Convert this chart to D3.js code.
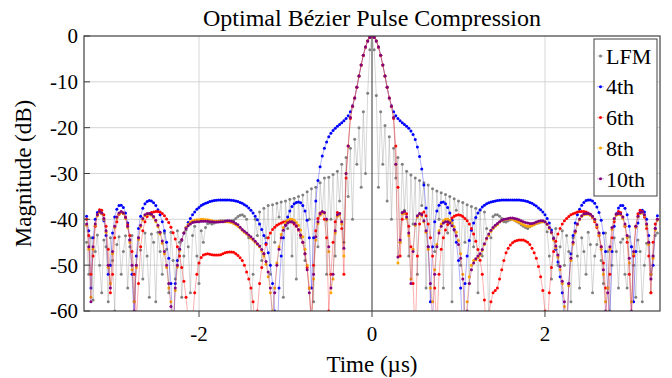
<!DOCTYPE html>
<html>
<head>
<meta charset="utf-8">
<script src="https://cdn.jsdelivr.net/npm/d3@7"></script>
<style>
  body { margin: 0; background: #fff; }
  text { font-family: "Liberation Serif", "DejaVu Serif", serif; }
</style>
</head>
<body>
<svg id="chart" width="672" height="378" font-family="Liberation Serif, DejaVu Serif, serif"></svg>
<script>
const title = "Optimal Bézier Pulse Compression";
const xLabel = "Time (µs)";
const yLabel = "Magnitude (dB)";
const seriesNames = ["LFM", "4th", "6th", "8th", "10th"];
const seriesColors = ["#808080", "#0000ff", "#ff0000", "#ffa500", "#800080"];
const xTicks = [-2, 0, 2];
const yTicks = [0, -10, -20, -30, -40, -50, -60];

// sample grid: t = -3.300, -3.275, ... 3.300 (µs), ten samples per row below
const tStart = -3.3, tStep = 0.025;

// magnitudes in dB; nulls under -60 run off the axis
const lfm = [
  -45, -52, -44, -57.6, -47, -43.4, -50, -56, -44.5, -46,
  -58, -44, -49, -60, -45.5, -43.8, -52, -47, -43.6, -55,
  -46, -43.5, -58, -50, -44, -46.7, -53, -43, -48, -57,
  -43.2, -45, -58, -42.8, -47, -52, -43, -46.5, -56, -42.8,
  -49, -53, -42.5, -45, -57, -48, -42.3, -46, -56, -43.5,
  -41.5, -48, -54, -42.5, -45, -41.8, -40.9, -40.8, -41, -40.8,
  -40.6, -40.4, -40.3, -40.3, -40.3, -40.4, -40.4, -40.3, -40.2, -39.8,
  -39.4, -39.1, -39, -39.3, -40, -44, -62, -52, -40, -43.5,
  -38.4, -49, -37.6, -44, -37, -52, -36.8, -45, -36.5, -39.5,
  -36.2, -57, -36, -42, -35.6, -48, -35.4, -53, -35, -44,
  -34.7, -49, -34, -40, -33.3, -58, -33, -46, -32, -38.5,
  -31, -52, -30.8, -40, -30.2, -48, -29.5, -36, -28, -45,
  -26.5, -35, -24.5, -40, -22.5, -28, -20, -33, -16.5, -30,
  -12.5, -3, 0, -3, -13, -33, -16.5, -28, -19.5, -36,
  -22, -40, -24.5, -31, -26.5, -45, -28, -38, -29.5, -48,
  -30.3, -41, -31, -52, -31.5, -37, -32, -55, -32.5, -44,
  -33.3, -47, -33.8, -40, -34.2, -55, -34.6, -43, -35, -58,
  -35.5, -38, -36, -50, -36.3, -45, -36.8, -54, -37.2, -46,
  -37.6, -56, -38, -48, -38.4, -42, -62, -44, -39.4, -39,
  -39, -39.3, -39.8, -40.5, -40.6, -40.3, -40.1, -40, -40.2, -40.5,
  -40.8, -41.2, -41.5, -41.8, -42, -41.6, -41.1, -40.9, -40.9, -40.8,
  -40.6, -40.5, -40.5, -42.7, -48, -53, -44, -42, -50, -46,
  -42.5, -50, -43.5, -47, -58, -44, -42.5, -48, -55, -44,
  -47, -52, -42.8, -45.5, -56, -48, -45.5, -43, -49, -54,
  -43, -47, -60, -50, -44, -47, -55, -45, -44.3, -52,
  -55, -43.8, -46, -50, -57, -44.5, -47, -58, -50, -45.2,
  -45.2, -56, -48, -43.5, -43
];
const bez4 = [
  -39.3, -42.5, -55, -44, -40, -38.5, -38.2, -38.7, -40.3, -43.5,
  -52, -50, -43, -39.5, -37.8, -37, -36.9, -37.4, -38.6, -40.8,
  -44.5, -52, -62, -48, -42, -39.3, -37.6, -36.6, -36.1, -35.9,
  -36, -36.4, -37, -37.9, -39, -40.5, -42.5, -45, -48.5, -54,
  -66, -54, -49, -46.5, -44.6, -43, -41.8, -40.7, -39.8, -39,
  -38.4, -37.8, -37.4, -37, -36.7, -36.5, -36.3, -36.1, -36, -35.9,
  -35.85, -35.8, -35.8, -35.8, -35.8, -35.8, -35.8, -35.85, -35.9, -36,
  -36.1, -36.3, -36.5, -36.8, -37.1, -37.5, -38, -38.6, -39.3, -40.1,
  -41, -42.2, -43.5, -45.2, -47.3, -50, -54, -60, -68, -55,
  -48, -44, -41.3, -39.5, -38.2, -37.2, -36.6, -36.3, -36.2, -36.4,
  -37, -38.2, -40.2, -44, -55, -44, -36, -31.5, -28.5, -26.2,
  -24.5, -23.1, -22, -21.2, -20.6, -20.1, -19.7, -19.3, -18.9, -18.5,
  -18, -17.4, -16.5, -15.2, -13.5, -11.2, -8.7, -6.3, -4.2, -2.4,
  -1.1, -0.3, 0, -0.3, -1.1, -2.4, -4.2, -6.3, -8.7, -11.2,
  -13.5, -15.2, -16.5, -17.4, -18, -18.5, -18.9, -19.3, -19.7, -20.1,
  -20.7, -21.5, -22.6, -24.2, -26.3, -29, -32.5, -37.5, -46, -58,
  -46, -40.5, -38.2, -36.9, -36.3, -36.2, -36.6, -37.4, -38.6, -40.2,
  -42.2, -45, -49, -55, -66, -54, -48, -44.6, -42.4, -40.8,
  -39.6, -38.6, -37.9, -37.3, -36.9, -36.6, -36.4, -36.2, -36.1, -36,
  -35.9, -35.85, -35.8, -35.8, -35.8, -35.8, -35.8, -35.8, -35.8, -35.8,
  -35.8, -35.85, -35.9, -36, -36.1, -36.3, -36.5, -36.8, -37.1, -37.5,
  -37.9, -38.4, -39, -39.8, -40.8, -42.3, -44.2, -46.5, -49.3, -52.5,
  -56, -62, -66, -54, -47.5, -43.5, -40.8, -39, -37.8, -36.9,
  -36.3, -35.9, -35.8, -35.8, -36, -36.5, -37.3, -38.5, -40.2, -43,
  -47, -55, -62, -47, -41.5, -38.8, -37.5, -37, -37, -37.6,
  -39, -41.5, -46, -58, -47, -40.8, -38.6, -38, -38.4, -40,
  -43.5, -52, -50, -42, -39.2
];
const bez6 = [
  -40, -43.5, -52, -48, -41.5, -39, -37.9, -38, -39, -41.5,
  -46.5, -56, -52, -44, -40.5, -38.9, -38.4, -38.6, -39.5, -41.2,
  -43.5, -47, -52, -62, -54, -46, -42.5, -40.5, -39.4, -38.8,
  -38.5, -38.4, -38.3, -38.3, -38.4, -38.7, -39.2, -39.9, -40.7, -41.7,
  -42.9, -44.3, -46, -48, -50.5, -53.5, -57, -62, -68, -62,
  -56, -52, -49.5, -48.3, -47.8, -47.6, -47.5, -47.6, -47.7, -47.8,
  -47.8, -47.8, -47.7, -47.5, -47.3, -47.2, -47.1, -47.1, -47.2, -47.5,
  -47.9, -48.4, -49, -50, -51.5, -53, -55, -58, -64, -60,
  -54, -50.5, -47.5, -45.5, -44, -43, -42.2, -41.7, -41.3, -41,
  -40.8, -40.6, -40.5, -40.5, -40.5, -40.6, -41, -41.5, -42.3, -43.5,
  -45, -47.5, -50.5, -55, -64, -50, -42.5, -39.8, -38.6, -38.5,
  -40, -44, -60, -52, -45, -40.5, -38.5, -38.7, -42, -52,
  -31, -24, -18, -15.4, -13.5, -11.2, -8.7, -6.3, -4.2, -2.4,
  -1.1, -0.3, 0, -0.3, -1.1, -2.4, -4.2, -6.3, -8.7, -11.2,
  -13.5, -15.4, -18, -24, -33, -48, -40, -38.6, -38.8, -41.5,
  -46, -54, -66, -48, -41, -38.8, -38.4, -39.2, -41, -44,
  -48, -55, -64, -52, -46.5, -44, -42.3, -41.1, -40.3, -39.7,
  -39.3, -39.1, -39, -39.1, -39.4, -39.8, -40.3, -41, -42, -43.2,
  -44.8, -46.6, -48.9, -52, -57.6, -66, -61, -58, -56, -55.5,
  -55, -53, -51, -49, -47.3, -46.3, -45.6, -45.1, -44.8, -44.6,
  -44.5, -44.5, -44.5, -44.7, -45, -45.5, -46.3, -47.3, -48.5, -50.3,
  -52.5, -55.5, -60, -66, -56, -50.5, -47, -44.8, -43.2, -42,
  -41, -40.3, -39.8, -39.4, -39, -38.8, -38.6, -38.4, -38.3, -38.3,
  -38.3, -38.4, -38.6, -39, -39.6, -40.5, -41.8, -43.5, -46, -49.5,
  -55, -64, -52, -44, -40.5, -38.9, -38.3, -38.5, -39.5, -41.5,
  -45, -52, -62, -48, -41.5, -38.8, -38, -38.3, -39.5, -42,
  -48, -56, -45, -41, -40
];
const bez8 = [
  -41.3, -46.5, -57, -46.5, -41.3, -39.2, -38.5, -38.8, -40, -42.8,
  -50.5, -54, -47.5, -41.8, -39.7, -38.8, -38.5, -38.8, -39.8, -41.8,
  -45, -51, -58, -50.5, -44.4, -41.6, -40.1, -39.2, -38.9, -38.9,
  -39.1, -39.6, -40.5, -41.6, -43.2, -45.2, -47.5, -50.5, -55, -58,
  -62, -55.5, -50.4, -46.8, -44.5, -42.9, -41.8, -41.1, -40.6, -40.3,
  -40.2, -40.1, -40.1, -40, -40, -40.1, -40.1, -40.2, -40.3, -40.4,
  -40.4, -40.4, -40.4, -40.4, -40.5, -40.5, -40.6, -40.7, -40.9, -41.2,
  -41.5, -41.9, -42.4, -42.8, -43.2, -43.6, -44.1, -44.5, -45, -45.5,
  -46, -46.9, -48, -49.8, -52.5, -56, -60, -55, -49.5, -46,
  -43.3, -41.8, -40.8, -40.2, -40, -40, -40.2, -40.7, -41.3, -42.3,
  -43.8, -46.5, -50, -55, -63, -53, -44.5, -40.9, -39.1, -38.6,
  -38.6, -40.2, -47, -56, -53, -43, -39.3, -39, -41, -48,
  -30, -24, -17.8, -15.3, -13.5, -11.2, -8.7, -6.3, -4.2, -2.4,
  -1.1, -0.3, 0, -0.3, -1.1, -2.4, -4.2, -6.3, -8.7, -11.2,
  -13.5, -15.3, -17.8, -28, -49.5, -45, -38.8, -38.6, -39.8, -43.5,
  -53, -46.5, -41.3, -39.5, -38.9, -39.2, -40.5, -42.8, -46.5, -55,
  -58, -51, -45.5, -42.5, -41, -40.3, -40, -40, -40.2, -40.8,
  -41.6, -42.8, -44.6, -47.5, -52, -63, -58, -52.5, -50, -49,
  -48.8, -48.3, -47.8, -46.8, -45.5, -44.3, -43.5, -42.6, -42, -41.5,
  -41.1, -40.6, -40.3, -40.1, -40, -39.9, -39.9, -40, -40.2, -40.4,
  -40.6, -40.9, -41.2, -41.4, -41.5, -41.5, -41.4, -41.2, -40.9, -40.7,
  -40.6, -40.5, -40.6, -41.1, -42, -43, -44.5, -46.2, -48.2, -51,
  -54, -59, -62, -54.5, -49, -45.4, -42.9, -41.2, -40.1, -39.4,
  -39, -38.9, -38.9, -39.1, -39.5, -40.2, -41.5, -43.4, -46.5, -52,
  -58, -55, -46.5, -42.2, -40, -39.1, -38.9, -39, -39.8, -41.4,
  -44, -49.5, -58, -47.5, -41.8, -39.5, -38.7, -38.6, -39.2, -41.3,
  -45.5, -52, -48.5, -42.3, -40.2
];
const bez10 = [
  -41, -46, -58, -46, -41, -39, -38.3, -38.6, -39.8, -42.5,
  -50, -55, -47, -41.5, -39.5, -38.6, -38.3, -38.6, -39.6, -41.5,
  -44.5, -50, -60, -50, -44, -41.3, -39.8, -39, -38.7, -38.7,
  -38.9, -39.4, -40.2, -41.3, -42.8, -44.7, -47, -50, -54, -59,
  -66, -55, -50, -46.5, -44.4, -43, -42, -41.4, -41, -40.7,
  -40.6, -40.5, -40.5, -40.4, -40.4, -40.4, -40.4, -40.5, -40.5, -40.6,
  -40.6, -40.6, -40.5, -40.5, -40.4, -40.3, -40.3, -40.4, -40.6, -40.9,
  -41.2, -41.7, -42.2, -42.6, -43, -43.4, -43.8, -44.3, -44.8, -45.3,
  -45.8, -46.6, -47.5, -49.2, -51.5, -55, -62, -56, -50, -46.5,
  -44, -42.4, -41.3, -40.8, -40.5, -40.5, -40.8, -41.4, -42.2, -43.4,
  -45, -47.5, -51, -56, -62, -52, -43.8, -40.5, -38.8, -38.3,
  -38.5, -40, -46, -55, -52, -42.5, -39, -38.7, -40.5, -46.3,
  -30, -24, -17.8, -15.3, -13.5, -11.2, -8.7, -6.3, -4.2, -2.4,
  -1.1, -0.3, 0, -0.3, -1.1, -2.4, -4.2, -6.3, -8.7, -11.2,
  -13.5, -15.3, -17.8, -28, -48.2, -44.5, -38.5, -38.3, -39.5, -43,
  -54, -47, -41, -39.2, -38.7, -39, -40.3, -42.5, -46, -54,
  -62, -52, -46, -43, -41.5, -40.8, -40.5, -40.5, -40.8, -41.4,
  -42.3, -43.6, -45.5, -48.5, -53, -62, -60, -54, -51, -49.5,
  -48.6, -48, -47.5, -46.6, -45.3, -44.1, -43.2, -42.4, -41.8, -41.3,
  -40.9, -40.5, -40.2, -40, -39.9, -39.8, -39.7, -39.7, -39.8, -39.9,
  -40.1, -40.3, -40.5, -40.7, -40.8, -40.9, -40.9, -40.8, -40.6, -40.4,
  -40.3, -40.3, -40.5, -41, -41.8, -42.8, -44.2, -45.8, -47.8, -50.3,
  -53.5, -58, -66, -54, -48.5, -45, -42.6, -41, -39.9, -39.2,
  -38.8, -38.7, -38.7, -38.9, -39.3, -40, -41.2, -43, -46, -51,
  -60, -56, -46, -41.8, -39.8, -38.9, -38.7, -38.8, -39.5, -41,
  -43.5, -48.5, -60, -47, -41.5, -39.3, -38.5, -38.4, -39, -41,
  -45, -53, -48, -42, -40
];
const seriesValues = [lfm, bez4, bez6, bez8, bez10];

const plot = { left: 84, right: 660, top: 36, bottom: 311 };

const svg = d3.select("#chart");

const x = d3.scaleLinear().domain([-3.33, 3.33]).range([plot.left, plot.right]);
const y = d3.scaleLinear().domain([-60, 0]).range([plot.bottom, plot.top]);

svg.append("defs").append("clipPath").attr("id", "plotClip")
  .append("rect")
  .attr("x", plot.left).attr("y", plot.top)
  .attr("width", plot.right - plot.left).attr("height", plot.bottom - plot.top);

// grid
const grid = svg.append("g");
grid.selectAll("line.hgrid")
  .data(yTicks.filter(d => d > -60 && d < 0))
  .enter().append("line")
  .attr("x1", plot.left).attr("x2", plot.right)
  .attr("y1", d => y(d)).attr("y2", d => y(d))
  .attr("stroke", "#cccccc").attr("stroke-width", 0.8);
grid.selectAll("line.vgrid")
  .data(xTicks.filter(d => d !== 0))
  .enter().append("line")
  .attr("x1", d => x(d)).attr("x2", d => x(d))
  .attr("y1", plot.top).attr("y2", plot.bottom)
  .attr("stroke", "#cccccc").attr("stroke-width", 0.8);
grid.append("line")
  .attr("x1", x(0)).attr("x2", x(0))
  .attr("y1", plot.top).attr("y2", plot.bottom)
  .attr("stroke", "#333").attr("stroke-width", 1);

// series: thin pale line plus a dot per sample
const dataG = svg.append("g").attr("clip-path", "url(#plotClip)");
const line = d3.line().x(d => x(d.t)).y(d => y(d.v));

seriesValues.forEach((vals, s) => {
  const pts = vals.map((v, i) => ({ t: tStart + i * tStep, v: v }));
  dataG.append("path")
    .datum(pts)
    .attr("d", line)
    .attr("fill", "none")
    .attr("stroke", seriesColors[s])
    .attr("stroke-opacity", 0.4)
    .attr("stroke-width", 0.8);
  dataG.selectAll("circle.s" + s)
    .data(pts.filter(p => p.v >= -61))
    .enter().append("circle")
    .attr("class", "s" + s)
    .attr("cx", d => x(d.t))
    .attr("cy", d => y(d.v))
    .attr("r", 1.5)
    .attr("fill", seriesColors[s]);
});

// frame
svg.append("rect")
  .attr("x", plot.left).attr("y", plot.top)
  .attr("width", plot.right - plot.left).attr("height", plot.bottom - plot.top)
  .attr("fill", "none").attr("stroke", "#404040").attr("stroke-width", 1.2);

// ticks
svg.selectAll("line.ytick")
  .data(yTicks)
  .enter().append("line")
  .attr("x1", plot.left).attr("x2", plot.left + 6)
  .attr("y1", d => y(d)).attr("y2", d => y(d))
  .attr("stroke", "#404040").attr("stroke-width", 1);
svg.selectAll("line.xtick")
  .data(xTicks)
  .enter().append("line")
  .attr("x1", d => x(d)).attr("x2", d => x(d))
  .attr("y1", plot.bottom).attr("y2", plot.bottom + 6)
  .attr("stroke", "#404040").attr("stroke-width", 1);

svg.selectAll("text.ylab")
  .data(yTicks)
  .enter().append("text")
  .attr("x", plot.left - 6)
  .attr("y", d => y(d))
  .attr("dy", "0.35em")
  .attr("text-anchor", "end")
  .attr("font-size", 21)
  .text(d => d === 0 ? "0" : "-" + Math.abs(d));

svg.selectAll("text.xlab")
  .data(xTicks)
  .enter().append("text")
  .attr("x", d => x(d))
  .attr("y", 341)
  .attr("text-anchor", "middle")
  .attr("font-size", 21)
  .text(d => d < 0 ? "-" + Math.abs(d) : String(d));

svg.append("text")
  .attr("x", (plot.left + plot.right) / 2)
  .attr("y", 372)
  .attr("text-anchor", "middle")
  .attr("font-size", 23)
  .text(xLabel);

svg.append("text")
  .attr("transform", `translate(31,${(plot.top + plot.bottom) / 2}) rotate(-90)`)
  .attr("text-anchor", "middle")
  .attr("font-size", 23)
  .text(yLabel);

svg.append("text")
  .attr("x", (plot.left + plot.right) / 2)
  .attr("y", 26)
  .attr("text-anchor", "middle")
  .attr("font-size", 24)
  .text(title);

// legend
const legend = svg.append("g");
legend.append("rect")
  .attr("x", 594).attr("y", 39)
  .attr("width", 63).attr("height", 157)
  .attr("fill", "#fff").attr("stroke", "#404040").attr("stroke-width", 1);
seriesNames.forEach((name, i) => {
  const ly = 56 + i * 30.7;
  legend.append("line")
    .attr("x1", 597).attr("x2", 604).attr("y1", ly).attr("y2", ly)
    .attr("stroke", seriesColors[i]).attr("stroke-opacity", 0.45).attr("stroke-width", 0.8);
  legend.append("circle")
    .attr("cx", 600.5).attr("cy", ly).attr("r", 1.5)
    .attr("fill", seriesColors[i]);
  legend.append("text")
    .attr("x", 606).attr("y", ly)
    .attr("dy", "0.35em")
    .attr("font-size", 22)
    .text(name);
});
</script>
</body>
</html>
